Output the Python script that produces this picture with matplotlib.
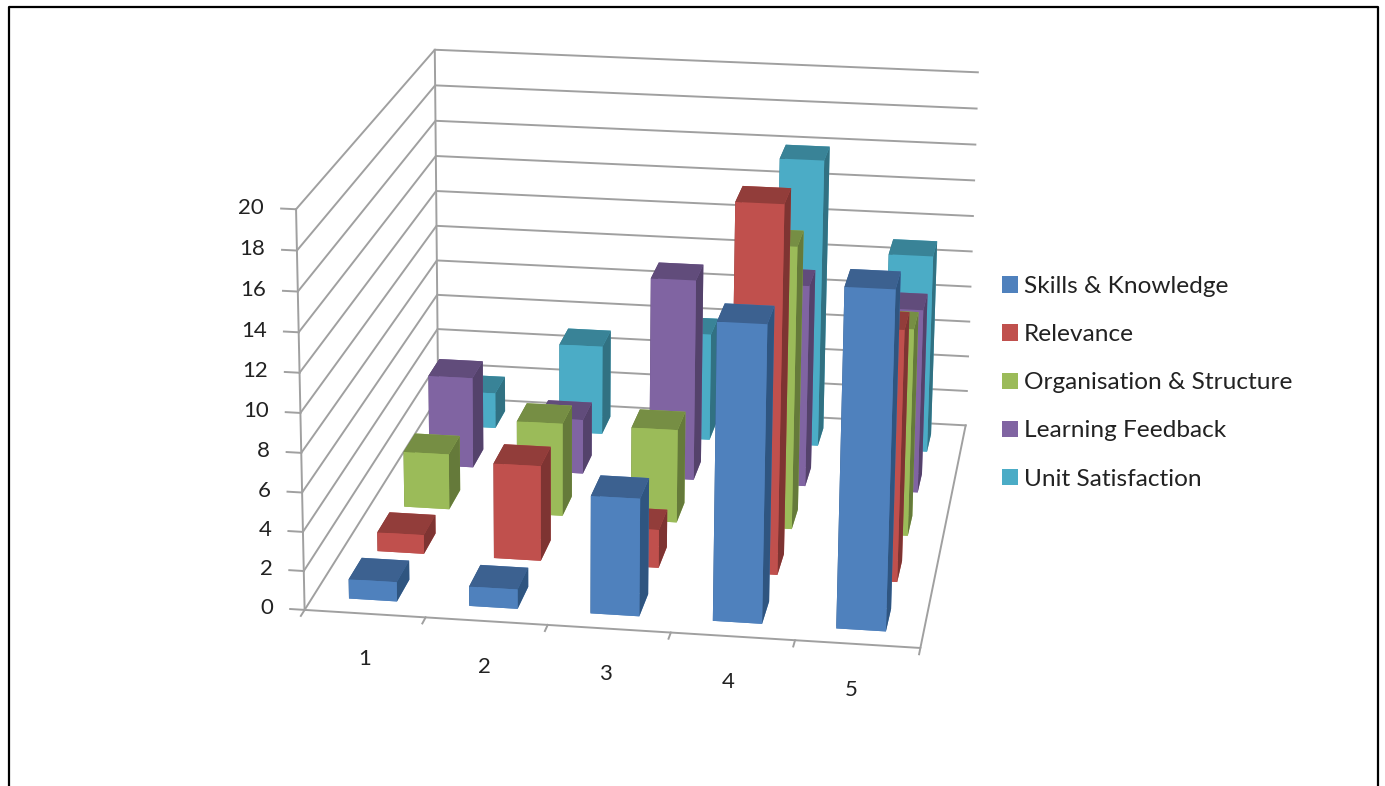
import matplotlib
matplotlib.use('Agg')
import matplotlib.pyplot as plt
from matplotlib.patches import Rectangle
from matplotlib.lines import Line2D

plt.rcParams['font.family'] = ['Lato', 'DejaVu Sans']

categories = ['1', '2', '3', '4', '5']
series_names = ['Skills & Knowledge', 'Relevance', 'Organisation & Structure',
                'Learning Feedback', 'Unit Satisfaction']
skills = [1, 1, 6, 15, 17]
relevance = [1, 5, 2, 19, 13]
organisation = [3, 5, 5, 15, 11]
feedback = [5, 3, 11, 11, 10]
satisfaction = [2, 5, 6, 16, 11]
series_values = [skills, relevance, organisation, feedback, satisfaction]
z_ticks = list(range(0, 21, 2))

# front, top, side
colors = [('#4F81BD', '#3C6190', '#2F5580'),
          ('#C0504D', '#923D3A', '#7E3432'),
          ('#9BBB59', '#768E44', '#657A3A'),
          ('#8064A2', '#614C7B', '#54426B'),
          ('#4BACC6', '#398397', '#317182')]
GREY = '#a0a0a0'
BAR_W = 0.4
BAR_D = 0.45

W, H = 1385, 786
SIDE, CX, CY = 700, 650, 336
fig = plt.figure(figsize=(W / 100, H / 100), dpi=100, facecolor='white')
ax = fig.add_axes([(CX - SIDE / 2) / W, 1 - (CY + SIDE / 2) / H, SIDE / W, SIDE / H], projection='3d')
ax.set_proj_type('persp', focal_length=1.0)
ax.view_init(elev=17.5, azim=-82, roll=-0.5)
ax.set_box_aspect((1, 1.1, 0.675), zoom=1.32)
ax.set_xlim(0, 5)
ax.set_ylim(0, 5)
ax.set_zlim(0, 20)
ax.set_xticks([])
ax.set_yticks([])
ax.set_zticks([])
ax.set_axis_off()
ax.patch.set_alpha(0)
ax.computed_zorder = False

# walls and floor
for z in z_ticks:
    ax.plot([0, 0, 5], [0, 5, 5], [z, z, z], color=GREY, lw=1.4, zorder=1, clip_on=False)
    ax.plot([0, -0.12], [0, 0], [z, z], color=GREY, lw=1.4, zorder=1, clip_on=False)
    ax.text(-0.26, 0, z, str(z), ha='right', va='center', fontsize=16, color='#222222')
ax.plot([0, 0], [0, 0], [0, 20], color=GREY, lw=1.4, zorder=1, clip_on=False)
ax.plot([0, 0], [5, 5], [0, 20], color=GREY, lw=1.4, zorder=1, clip_on=False)
ax.plot([0, 5, 5], [0, 0, 5], [0, 0, 0], color=GREY, lw=1.4, zorder=1, clip_on=False)
for i in range(6):
    ax.plot([i, i], [0, -0.12], [0, 0], color=GREY, lw=1.4, zorder=1, clip_on=False)
for i, cat in enumerate(categories):
    ax.text(2.62 + (i - 2) * 0.96, -0.85, 0, cat, ha='center', va='center', fontsize=16, color='#222222')

# bars, back row first
for j in range(4, -1, -1):
    front, top, side = colors[j]
    for i, val in enumerate(series_values[j]):
        ax.bar3d(i + (1 - BAR_W) / 2, j + (1 - BAR_D) / 2, 0, BAR_W, BAR_D, val, shade=False,
                 color=[front, top, front, front, side, side], edgecolor='none',
                 zorder=10 + (4 - j) * 10 + i)

# legend
handles = [Rectangle((0, 0), 1, 1, fc=c[0], ec='none') for c in colors]
fig.legend(handles, series_names, loc='upper left', bbox_to_anchor=(1002 / W, 1 - 276 / H),
           frameon=False, fontsize=17.6, handlelength=0.65, handleheight=0.65,
           handletextpad=0.25, labelspacing=1.11, borderaxespad=0, borderpad=0,
           labelcolor='#222222')

# slide frame, open at the bottom
fx = [8.5 / W, 8.5 / W, 1377.5 / W, 1377.5 / W]
fy = [0, 1 - 6.5 / H, 1 - 6.5 / H, 0]
fig.add_artist(Line2D(fx, fy, color='black', lw=1.6, transform=fig.transFigure))

fig.savefig('out.png', dpi=100, facecolor='white')
